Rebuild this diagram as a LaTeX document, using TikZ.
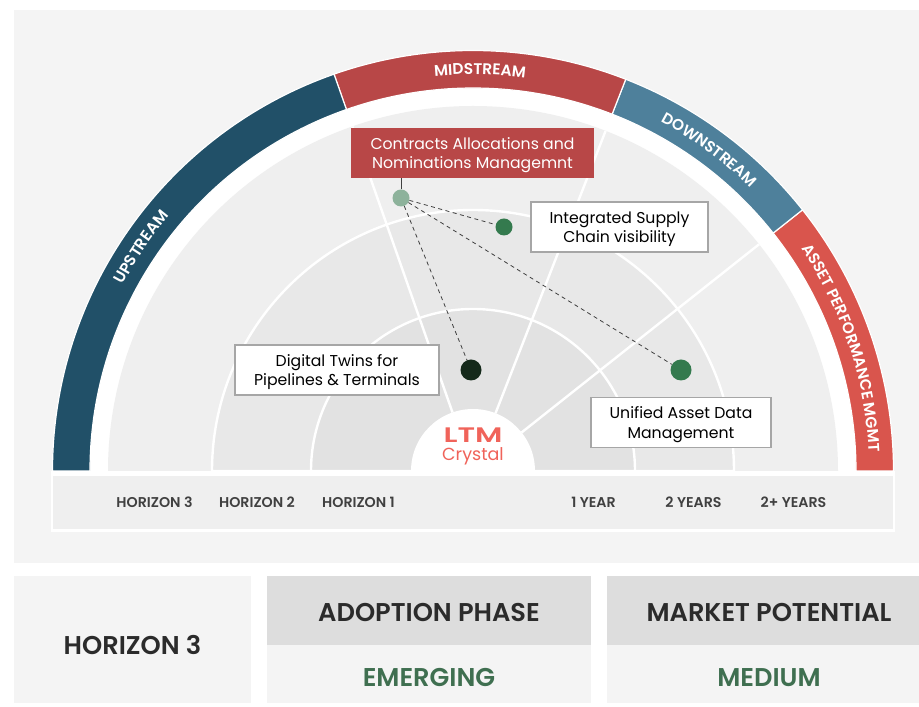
\documentclass[tikz,border=0pt]{standalone}
\usepackage{fontspec}
\setmainfont{Poppins}[BoldFont={Poppins SemiBold}]
\newfontfamily\pop{Poppins}[BoldFont={Poppins SemiBold}]
\usetikzlibrary{decorations.text}
\definecolor{panel}{HTML}{F4F4F4}
\definecolor{bandC}{HTML}{EFEFEF}
\definecolor{bandB}{HTML}{E8E8E8}
\definecolor{bandA}{HTML}{E2E2E2}
\definecolor{upc}{HTML}{215068}
\definecolor{midc}{HTML}{B84747}
\definecolor{downc}{HTML}{4E809B}
\definecolor{assetc}{HTML}{D9554D}
\definecolor{ink}{HTML}{2B2B2B}
\definecolor{headc}{HTML}{DDDDDD}
\definecolor{greenc}{HTML}{3F6F50}
\definecolor{logoc}{HTML}{F0635A}
\definecolor{srcc}{HTML}{8DB29B}
\definecolor{dotc}{HTML}{347A4E}
\definecolor{darkc}{HTML}{14291A}
\newcommand{\ringseg}[3]{\filldraw[draw=white,line width=1.2pt,fill=#3] (#1:420.5pt) arc[start angle=#1,end angle=#2,radius=420.5pt] -- (#2:383pt) arc[start angle=#2,end angle=#1,radius=383pt] -- cycle;}
\newcommand{\ringtext}[4]{\path[decorate,decoration={text along path,text align=center,text={|\color{white}\pop\bfseries\fontsize{#4}{#4}\selectfont|#3}}] (#1:396.5pt) arc[start angle=#1,end angle=#2,radius=396.5pt];}
\newcommand{\topfix}{\rule{0pt}{16.5pt}}
\tikzset{
  whitebox/.style={draw=black!35,line width=1.1pt,fill=white,text=black,align=center,font=\fontsize{15.7}{19.5}\selectfont,minimum height=50pt,inner sep=0pt},
  redbox/.style={fill=midc,text=white,align=center,font=\fontsize{15.7}{19.5}\selectfont,minimum width=243pt,minimum height=50pt,inner sep=0pt},
  dot/.style={circle,inner sep=0pt,draw=none},
  axislabel/.style={text=ink!90,font=\bfseries\fontsize{14.2}{16}\selectfont,inner sep=0pt},
  biglabel/.style={text=ink,font=\bfseries\fontsize{25.7}{29}\selectfont,inner sep=0pt},
  link/.style={draw=black!75,line width=0.8pt,dash pattern=on 4pt off 3.5pt},
  spoke/.style={draw=white,line width=2.4pt}
}
\begin{document}
\begin{tikzpicture}[x=1pt,y=1pt]
\useasboundingbox (0,0) rectangle (919,707);
\fill[white] (0,0) rectangle (919,707);
\fill[panel] (14,143.5) rectangle (919,697);
% bottom tiles
\fill[panel] (14,4) rectangle (251,131);
\fill[headc] (267,62) rectangle (591,131);
\fill[panel] (267,4) rectangle (591,62);
\fill[headc] (607,62) rectangle (919,131);
\fill[panel] (607,4) rectangle (919,62);
\begin{scope}[shift={(473,236)}]
  \fill[white] (385,0) arc[start angle=0,end angle=180,radius=385pt] -- cycle;
  \ringseg{0}{38.4}{assetc}
  \ringseg{38.4}{68.7}{downc}
  \ringseg{68.7}{109.3}{midc}
  \ringseg{109.3}{180}{upc}
  \fill[bandC] (365,0) arc[start angle=0,end angle=180,radius=365pt] -- cycle;
  \filldraw[bandB,draw=white,line width=2.4pt] (261,0) arc[start angle=0,end angle=180,radius=261pt] -- cycle;
  \filldraw[bandA,draw=white,line width=2.4pt] (162,0) arc[start angle=0,end angle=180,radius=162pt] -- cycle;
  \draw[spoke] (109.3:62pt) -- (109.3:365pt);
  \draw[spoke] (68.7:62pt) -- (68.7:365pt);
  \draw[spoke] (38.4:62pt) -- (38.4:365pt);
  \fill[white] (62,0) arc[start angle=0,end angle=180,radius=62pt] -- cycle;
  \ringtext{176}{116}{UPSTREAM}{15.8}
  \ringtext{119}{59}{MIDSTREAM}{15.5}
  \ringtext{70}{37.4}{DOWNSTREAM}{15.5}
  \ringtext{36.5}{0.4}{ASSET PERFORMANCE MGMT}{15.5}
\end{scope}
% axis strip
\fill[white] (51,175) rectangle (895,236);
\fill[bandC] (53,178) rectangle (893,231);
% logo
\node[inner sep=0pt,text=logoc,font=\bfseries\fontsize{21}{21}\selectfont] (ltm) at (473,271.5) {\scalebox{1.45}[1]{LTM}};
\node[inner sep=0pt,text=logoc,font=\fontsize{17.5}{18}\selectfont] (crystal) at (473,251) {Crystal};
% axis labels
\node[axislabel] (h3) at (154.5,204.7) {HORIZON 3};
\node[axislabel] (h2) at (257,204.7) {HORIZON 2};
\node[axislabel] (h1) at (358.5,204.7) {HORIZON 1};
\node[axislabel] (y1) at (593.5,204.7) {1 YEAR};
\node[axislabel] (y2) at (693.5,204.7) {2 YEARS};
\node[axislabel] (y3) at (793.5,204.7) {2+ YEARS};
% labels
\node[redbox] (contracts) at (472.5,554) {\topfix Contracts Allocations and\\Nominations Managemnt};
\node[whitebox,minimum width=177pt] (supply) at (619.5,480) {\topfix Integrated Supply\\Chain visibility};
\node[whitebox,minimum width=204pt] (twins) at (337,337) {\topfix Digital Twins for\\Pipelines \& Terminals};
\node[whitebox,minimum width=180pt] (asset) at (681,284.5) {\topfix Unified Asset Data\\Management};
% dots
\node[dot,fill=srcc,minimum size=17pt] (src) at (401,509) {};
\node[dot,fill=dotc,minimum size=17pt] (d1) at (504,480) {};
\node[dot,fill=dotc,minimum size=21pt] (d2) at (681,337) {};
\node[dot,fill=darkc,minimum size=21pt] (d3) at (471,337) {};
\draw[draw=black!75,line width=0.7pt] (src) -- (src |- contracts.south);
\draw[link] (src) -- (d1);
\draw[link] (src) -- (d2);
\draw[link] (src) -- (d3);
% bottom texts
\node[biglabel] (cur) at (132.5,61.5) {HORIZON 3};
\node[biglabel] (ap) at (429,94.5) {ADOPTION PHASE};
\node[biglabel,text=greenc] (em) at (429,29.5) {EMERGING};
\node[biglabel] (mp) at (769,94.5) {MARKET POTENTIAL};
\node[biglabel,text=greenc] (me) at (769,29.5) {MEDIUM};
\end{tikzpicture}
\end{document}
